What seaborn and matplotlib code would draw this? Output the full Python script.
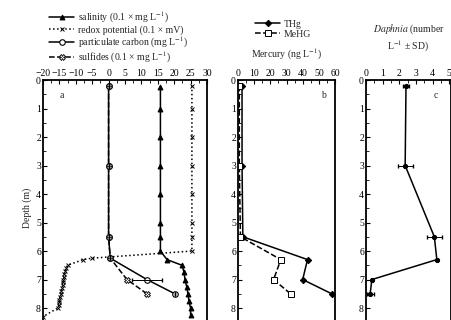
import matplotlib
matplotlib.use("Agg")
import matplotlib.pyplot as plt
import seaborn as sns
from matplotlib.ticker import MultipleLocator

# panel a - water column chemistry
sal_depth = [0.25, 1, 2, 3, 4, 5, 5.5, 6.0, 6.3, 6.5, 6.75, 7.0, 7.25, 7.5, 7.75, 8.0, 8.25]
sal_val = [15.8, 15.8, 15.8, 15.8, 15.8, 15.8, 15.8, 15.8, 17.8, 22.4, 23.0, 23.3, 23.8, 24.2, 24.5, 25.0, 25.0]

redox_depth = [0.2, 1, 2, 3, 4, 5, 5.5, 6.0, 6.25, 6.3, 6.5, 6.6, 6.7, 6.8, 6.9, 7.0, 7.1, 7.2,
               7.3, 7.4, 7.5, 7.6, 7.7, 7.8, 7.9, 8.0, 8.3]
redox_val = [25.4, 25.4, 25.4, 25.4, 25.4, 25.4, 25.4, 25.4, -5.0, -7.8, -12.5, -13.0, -13.2, -13.5,
             -13.6, -13.8, -14.0, -14.0, -14.2, -14.5, -14.5, -14.8, -15.0, -15.0, -15.2, -15.5, -20.0]

carb_depth = [0.2, 3, 5.5, 6.25, 7.0, 7.5]
carb_val = [0.0, 0.0, 0.0, 0.5, 11.7, 20.2]
carb_err = [0, 0, 0, 0, 4.6, 0]

sulf_depth = [0.2, 3, 5.5, 6.25, 7.0, 7.5]
sulf_val = [0.0, 0.0, 0.0, 0.5, 5.6, 11.7]

# panel b - mercury
hg_depth = [0.2, 3, 5.5, 6.3, 7.0, 7.5]
thg = [2.5, 2.5, 3.0, 43.0, 40.0, 58.0]
mehg = [0.8, 0.8, 1.5, 26.5, 22.0, 32.5]

# panel c - Daphnia
daph_depth = [0.2, 3, 5.5, 6.3, 7.0, 7.5]
daph = [2.4, 2.35, 4.1, 4.25, 0.35, 0.25]
daph_sd = [0.2, 0.45, 0.45, 0, 0, 0.2]

sns.set_theme(style="ticks")
plt.rcParams["font.family"] = ["Liberation Serif", "DejaVu Serif"]
plt.rcParams["mathtext.fontset"] = "stix"
plt.rcParams["font.size"] = 7

FS = 7
W, H = 451, 320
fig = plt.figure(figsize=(W / 100, H / 100), dpi=100)


def make_ax(x0, x1):
    # axes runs past the bottom edge, like the cropped reference
    ax = fig.add_axes([x0 / W, -16 / H, (x1 - x0) / W, 256 / H])
    ax.set_ylim(8.98, 0)
    ax.yaxis.set_major_locator(MultipleLocator(1))
    ax.yaxis.set_minor_locator(MultipleLocator(0.5))
    ax.xaxis.tick_top()
    ax.xaxis.set_label_position("top")
    ax.tick_params(which="both", direction="in", labelsize=FS, pad=1.5, colors="black")
    ax.tick_params(which="major", length=3, width=0.8)
    ax.tick_params(which="minor", length=1.8, width=0.6)
    for s in ax.spines.values():
        s.set_linewidth(1.3)
        s.set_color("black")
    return ax


ax_a = make_ax(43, 207)
ax_b = make_ax(238, 335)
ax_c = make_ax(366, 451)

lw = 1.1
kw = dict(sort=False, estimator=None, color="black", linewidth=lw, ax=ax_a)

sns.lineplot(x=sal_val, y=sal_depth, marker="^", markersize=3.5, markeredgecolor="black",
             label="salinity (0.1 × mg L$^{-1}$)", **kw)
sns.lineplot(x=redox_val, y=redox_depth, marker="x", markersize=3.5, markeredgecolor="black",
             markeredgewidth=0.7, linestyle=":", label="redox potential (0.1 × mV)", **kw)
sns.lineplot(x=carb_val, y=carb_depth, marker="o", markersize=4, markerfacecolor="white",
             markeredgecolor="black", markeredgewidth=0.8,
             label="particulate carbon (mg L$^{-1}$)", **kw)
sns.lineplot(x=sulf_val, y=sulf_depth, marker="X", markersize=4, markerfacecolor="white",
             markeredgecolor="black", markeredgewidth=0.6, linestyle="--",
             label="sulfides (0.1 × mg L$^{-1}$)", **kw)
ax_a.errorbar(carb_val, carb_depth, xerr=carb_err, fmt="none", ecolor="black",
              elinewidth=0.7, capsize=1.5)
ax_a.set_xlim(-20, 30)
ax_a.xaxis.set_major_locator(MultipleLocator(5))
ax_a.xaxis.set_minor_locator(MultipleLocator(2.5))
ax_a.set_ylabel("Depth (m)", fontsize=FS, labelpad=3)
ax_a.text(0.1, 0.93, "a", transform=ax_a.transAxes, fontsize=FS)
h, l = ax_a.get_legend_handles_labels()
ax_a.get_legend().remove()
fig.legend(h, l, loc="upper left", bbox_to_anchor=(44 / W, 1 - 5 / H), frameon=False,
           fontsize=FS, handlelength=2.6, handletextpad=0.4, labelspacing=0.0, borderpad=0)

kw_b = dict(sort=False, estimator=None, color="black", linewidth=lw, ax=ax_b)
sns.lineplot(x=thg, y=hg_depth, marker="D", markersize=3.2, markeredgecolor="black",
             label="THg", **kw_b)
sns.lineplot(x=mehg, y=hg_depth, marker="s", markersize=3.8, markerfacecolor="white",
             markeredgecolor="black", markeredgewidth=0.7, linestyle="--", label="MeHG", **kw_b)
ax_b.set_xlim(0, 60)
ax_b.xaxis.set_major_locator(MultipleLocator(10))
ax_b.xaxis.set_minor_locator(MultipleLocator(5))
ax_b.set_xlabel("Mercury (ng L$^{-1}$)", fontsize=FS, labelpad=8)
ax_b.set_ylabel("")
ax_b.text(0.86, 0.93, "b", transform=ax_b.transAxes, fontsize=FS)
h, l = ax_b.get_legend_handles_labels()
ax_b.get_legend().remove()
fig.legend(h, l, loc="upper left", bbox_to_anchor=(250 / W, 1 - 15 / H), frameon=False,
           fontsize=FS, handlelength=2.6, handletextpad=0.4, labelspacing=0.1, borderpad=0)

sns.lineplot(x=daph, y=daph_depth, marker="o", markersize=3, markeredgecolor="black",
             sort=False, estimator=None, color="black", linewidth=lw, ax=ax_c)
ax_c.errorbar(daph, daph_depth, xerr=daph_sd, fmt="none", ecolor="black",
              elinewidth=0.7, capsize=1.5)
ax_c.set_xlim(0, 5.1)
ax_c.xaxis.set_major_locator(MultipleLocator(1))
ax_c.xaxis.set_minor_locator(MultipleLocator(0.5))
ax_c.set_xlabel("$\\it{Daphnia}$ (number\nL$^{-1}$ ± SD)", fontsize=FS, labelpad=14,
                linespacing=1.2)
ax_c.set_ylabel("")
ax_c.text(0.8, 0.93, "c", transform=ax_c.transAxes, fontsize=FS)

fig.savefig("out.png", dpi=100)
